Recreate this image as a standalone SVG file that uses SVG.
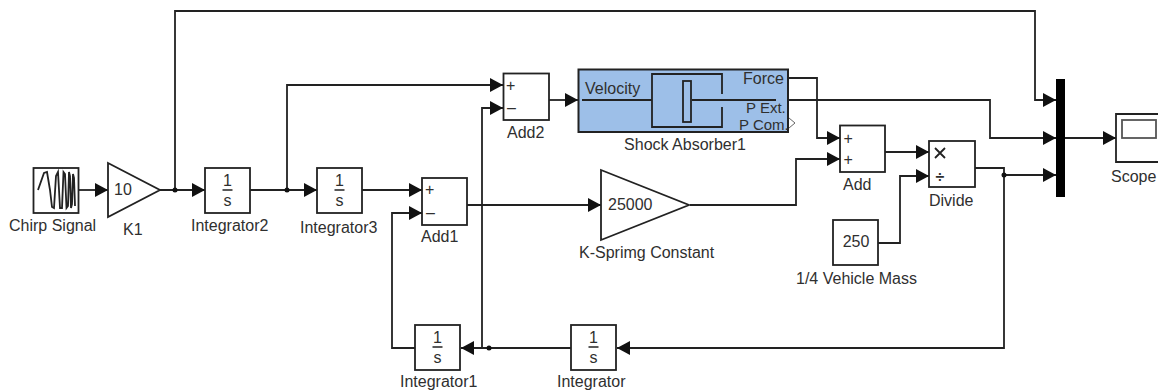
<svg xmlns="http://www.w3.org/2000/svg" width="1158" height="391" viewBox="0 0 1158 391">
<style>
text{font-family:"Liberation Sans",Arial,sans-serif;font-size:16px;fill:#2f2f2f}
.m{text-anchor:middle}
.b{fill:#fff;stroke:#222;stroke-width:1.8}
.c{fill:none;stroke:#222;stroke-width:1.8}
.h{fill:#111;stroke:none}
.p{font-size:15px}
</style>
<defs>
<marker id="a" markerUnits="userSpaceOnUse" markerWidth="14" markerHeight="15" refX="13" refY="7.5" orient="auto"><path class="h" d="M0 0.5L13 7.5L0 14.500z"/></marker>
<g id="int"><rect class="b" width="45" height="45"/><line x1="17.500" x2="27.500" y1="22" y2="22" stroke="#222" stroke-width="1.500"/><text class="m" x="22.500" y="18">1</text><text class="m" x="22.500" y="38">s</text></g>
</defs>
<g id="connectors">
<path class="c" marker-end="url(#a)" d="M78 190H108"/>
<path class="c" marker-end="url(#a)" d="M160 190H205"/>
<path class="c" marker-end="url(#a)" d="M175 190V11H1035V100H1056"/>
<path class="c" marker-end="url(#a)" d="M250 190H317"/>
<path class="c" marker-end="url(#a)" d="M287 190V85H503"/>
<path class="c" marker-end="url(#a)" d="M362 190H422"/>
<path class="c" marker-end="url(#a)" d="M549 100H578"/>
<path class="c" marker-end="url(#a)" d="M415 348H392V213H422"/>
<path class="c" marker-end="url(#a)" d="M482 348V108H503"/>
<path class="c" marker-end="url(#a)" d="M571 348H461"/>
<path class="c" marker-end="url(#a)" d="M467 205H601"/>
<path class="c" marker-end="url(#a)" d="M690 205H796V159H840"/>
<path class="c" marker-end="url(#a)" d="M788 78H817V138H840"/>
<path class="c" marker-end="url(#a)" d="M788 100H990V138H1056"/>
<path class="c" marker-end="url(#a)" d="M885 152H929"/>
<path class="c" marker-end="url(#a)" d="M878 243H900V176H929"/>
<path class="c" marker-end="url(#a)" d="M975 168H1004V348H617"/>
<path class="c" marker-end="url(#a)" d="M1004 175H1056"/>
<path class="c" marker-end="url(#a)" d="M1065 138H1116"/>
<circle class="h" cx="175" cy="190" r="2.500"/>
<circle class="h" cx="287" cy="190" r="2.500"/>
<circle class="h" cx="489" cy="348" r="2.500"/>
<circle class="h" cx="1004" cy="175" r="2.500"/>
</g>
<g id="chirp"><rect class="b" x="33.500" y="168" width="45" height="45"/><path class="c" stroke-width="1.400" d="M38 190L44 173L47 172L50 190L52 207L54 208L56 176L58 172L60 208L62 208L63.500 172L65 174L66.500 208L68 206L69 172L70 176L71 208L72 204L73 174L74 178L75 206"/><text x="9" y="231">Chirp Signal</text></g>
<g id="k1"><path class="b" d="M108 163L160 190L108 217z"/><text x="114" y="195">10</text><text x="123" y="235">K1</text></g>
<g id="integrator2"><use href="#int" x="205" y="168"/><text x="191" y="231">Integrator2</text></g>
<g id="integrator3"><use href="#int" x="317" y="168"/><text x="300" y="233">Integrator3</text></g>
<g id="add1"><rect class="b" x="422" y="178" width="45" height="47"/><text x="425" y="195">+</text><text x="426" y="218">–</text><text x="421" y="242">Add1</text></g>
<g id="add2"><rect class="b" x="503.500" y="73.500" width="45.500" height="46.500"/><text x="506" y="90.500">+</text><text x="507" y="113">–</text><text x="507" y="138">Add2</text></g>
<g id="shock"><rect x="578.500" y="69.500" width="209.500" height="62.500" fill="#9dbfe8" stroke="#222" stroke-width="2"/><path class="c" d="M582 100H652M652 100V74H722V94M722 107V127H652V100M692 100H776"/><rect x="683" y="81" width="8" height="41" fill="#9dbfe8" stroke="#222" stroke-width="1.800"/><text x="585" y="94">Velocity</text><text x="743" y="84">Force</text><text class="p" x="746" y="113">P Ext.</text><text class="p" x="739" y="130">P Com.</text><path d="M789 118L795 123L789 128" fill="#fff" stroke="#666" stroke-width="1"/><text class="m" x="685" y="150">Shock Absorber1</text></g>
<g id="ksprimg"><path class="b" d="M601 170L689 205L601 240z"/><text x="608" y="210">25000</text><text x="579" y="258">K-Sprimg Constant</text></g>
<g id="add"><rect class="b" x="840" y="125.500" width="45" height="46.500"/><text x="843.500" y="143.500">+</text><text x="843.500" y="165">+</text><text x="843" y="190">Add</text></g>
<g id="divide"><rect class="b" x="929" y="141" width="46" height="46"/><path class="c" stroke-width="1.300" d="M935 148L945 158M945 148L935 158"/><text class="m" x="940" y="182" font-weight="bold">÷</text><text x="929" y="206">Divide</text></g>
<g id="mass"><rect class="b" x="833" y="220" width="45" height="45"/><text class="m" x="856" y="247">250</text><text x="796" y="284">1/4 Vehicle Mass</text></g>
<g id="mux"><rect x="1056" y="79" width="9" height="118" fill="#000"/></g>
<g id="scope"><path class="c" d="M1160 114H1116V162H1160"/><rect x="1122" y="120" width="34" height="18" fill="#fff" stroke="#555" stroke-width="1.800"/><text x="1111" y="182">Scope</text></g>
<g id="integrator1"><use href="#int" x="415" y="325"/><text x="400" y="387">Integrator1</text></g>
<g id="integrator"><use href="#int" x="571" y="325"/><text x="557" y="387">Integrator</text></g>
</svg>
